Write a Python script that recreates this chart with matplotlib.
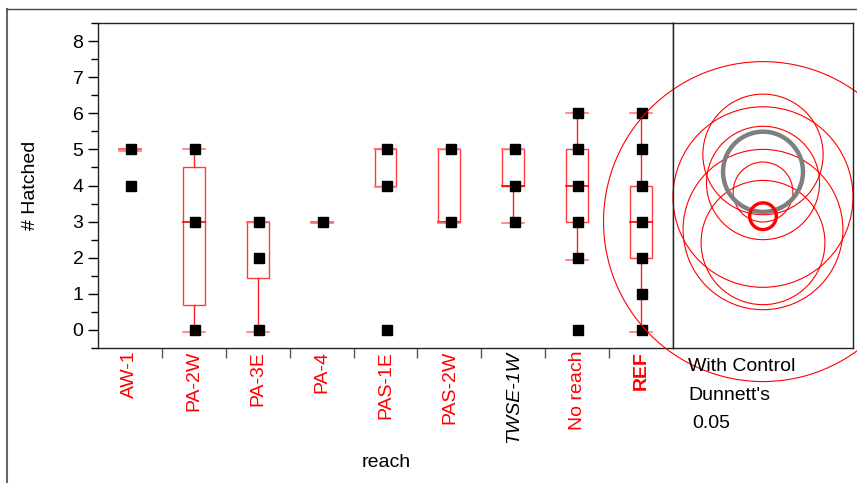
import numpy as np
import matplotlib.pyplot as plt
from matplotlib.patches import Rectangle, Circle
from matplotlib.lines import Line2D

plt.rcParams['font.family'] = ['Liberation Sans', 'DejaVu Sans']

# groups and raw points
reaches = ['AW-1', 'PA-2W', 'PA-3E', 'PA-4', 'PAS-1E', 'PAS-2W', 'TWSE-1W', 'No reach', 'REF']
pts = [[5, 4], [5, 3, 0], [3, 2, 0], [3], [5, 4, 0], [5, 3], [5, 4, 3],
       [6, 5, 4, 3, 2, 0], [6, 5, 4, 3, 2, 1, 0]]

# box plot stats (quantiles / whisker ends)
q1 = [5, 0.7, 1.45, 3, 4, 3, 4, 3, 2]
med = [5, 3, 3, 3, 5, 3, 4, 4, 3]
q3 = [5, 4.5, 3, 3, 5, 5, 5, 5, 4]
wlo = [5, 0, 0, 3, 4, 3, 3, 2, 0]
whi = [5, 5, 3, 3, 5, 5, 5, 6, 6]

# comparison circles (center, radius) for each group
circ_mean = [4.86, 2.78, 2.42, 3.0, 3.68, 4.07, 4.38, 3.82, 3.15]
circ_rad = [1.67, 2.22, 1.72, 4.43, 2.5, 1.57, 1.11, 0.83, 0.37]

W, H = 857, 483
fig = plt.figure(figsize=(W / 100, H / 100), dpi=100)
ax = fig.add_axes([98 / W, 135 / H, 575 / W, 325 / H])
cax = fig.add_axes([673 / W, 135 / H, 180 / W, 325 / H])

# boxes
bw = 0.172
for i in range(len(reaches)):
    ax.add_patch(Rectangle((i - bw, q1[i]), 2 * bw, q3[i] - q1[i], fill=False,
                           ec='#ff3b3b', lw=1, zorder=2))
    ax.plot([i - bw, i + bw], [med[i], med[i]], color='red', lw=1.2, zorder=2)
    ax.plot([i, i], [wlo[i], q1[i]], color='#ff2020', lw=1, zorder=2)
    ax.plot([i, i], [q3[i], whi[i]], color='#ff2020', lw=1, zorder=2)
    ax.plot([i - bw, i + bw], [wlo[i] - 0.05, wlo[i] - 0.05], color='#ff7a7a', lw=1.2, zorder=2)
    ax.plot([i - bw, i + bw], [whi[i], whi[i]], color='#ff7a7a', lw=1.2, zorder=2)
    ax.plot([i + 0.02] * len(pts[i]), pts[i], 's', color='black', ms=7, zorder=3)

ax.set_xlim(-0.5, 8.5)
ax.set_ylim(-0.5, 8.5)

# x: ticks at category boundaries, labels at centres
ax.set_xticks(np.arange(0.5, 8, 1))
ax.set_xticklabels([])
ax.set_xticks(np.arange(9), reaches, minor=True)
ax.tick_params(axis='x', which='major', direction='out', length=7.5, width=1, color='#555555')
ax.tick_params(axis='x', which='minor', length=0, pad=2, labelsize=14, labelrotation=90)
for lab in ax.get_xticklabels(minor=True):
    t = lab.get_text()
    if t == 'TWSE-1W':
        lab.set_color('black')
        lab.set_style('italic')
    else:
        lab.set_color('red')
    if t == 'REF':
        lab.set_fontweight('bold')

ax.set_yticks(range(9))
ax.set_yticks(np.arange(-0.5, 9, 1), minor=True)
ax.tick_params(axis='y', which='major', direction='out', length=7.5, width=1, pad=3, labelsize=14)
ax.tick_params(axis='y', which='minor', direction='out', length=5, width=1)
for sp in ax.spines.values():
    sp.set_color('#222222')
    sp.set_linewidth(1)

# comparison circles panel
cax.set_xlim(-2.5, 2.5)
cax.set_ylim(-0.5, 8.5)
cax.set_xticks([])
cax.set_yticks([])
for sp in cax.spines.values():
    sp.set_color('#222222')
    sp.set_linewidth(1)
for i in range(len(reaches)):
    if reaches[i] == 'REF':
        ec, lw, z = 'red', 2.4, 4
    elif reaches[i] == 'TWSE-1W':
        ec, lw, z = '#7f7f7f', 3.2, 3
    else:
        ec, lw, z = 'red', 0.8, 2
    cax.add_patch(Circle((0, circ_mean[i]), circ_rad[i], fill=False, ec=ec, lw=lw,
                         zorder=z, clip_on=False))

fig.text(688 / W, 1 - 366.5 / H, 'With Control', fontsize=14, va='center')
fig.text(688 / W, 1 - 395.5 / H, "Dunnett's", fontsize=14, va='center')
fig.text(692 / W, 1 - 424 / H, '0.05', fontsize=14, va='center')

fig.text(31 / W, 1 - 185 / H, '# Hatched', fontsize=14, rotation=90, ha='center', va='center')
fig.text(386 / W, 1 - 462.5 / H, 'reach', fontsize=14, ha='center', va='center')

# outer frame
fig.add_artist(Line2D([7 / W, 7 / W], [0, 1 - 9 / H], transform=fig.transFigure, color='#666666', lw=1.5))
fig.add_artist(Line2D([7 / W, 1], [1 - 9 / H, 1 - 9 / H], transform=fig.transFigure, color='#444444', lw=1))

fig.savefig('out.png', dpi=100)
